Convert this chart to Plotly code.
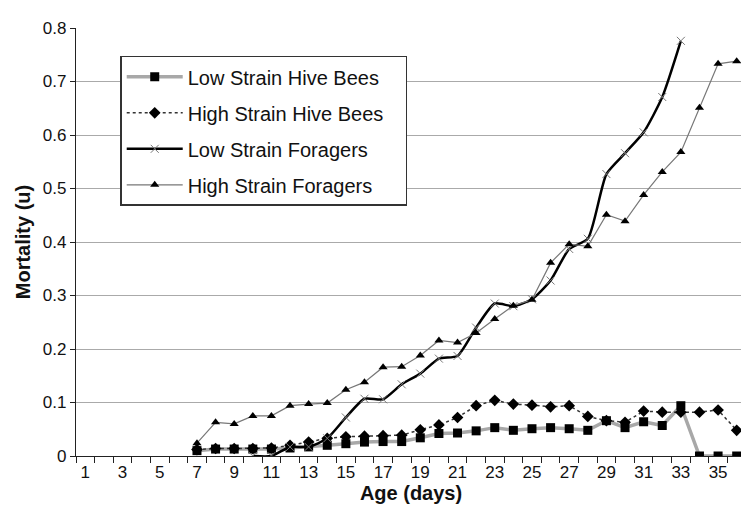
import plotly.graph_objects as go

days = list(range(1, 37))

low_hive_days = list(range(7, 37))
low_hive = [0.010, 0.013, 0.013, 0.013, 0.013, 0.015, 0.017, 0.020, 0.023, 0.026,
            0.027, 0.027, 0.034, 0.042, 0.043, 0.047, 0.053, 0.048, 0.051, 0.053,
            0.051, 0.048, 0.066, 0.053, 0.064, 0.057, 0.094, 0.0, 0.0, 0.0]

high_hive_days = list(range(7, 37))
high_hive = [0.012, 0.014, 0.014, 0.014, 0.015, 0.020, 0.026, 0.033, 0.036, 0.037,
             0.038, 0.039, 0.049, 0.058, 0.072, 0.094, 0.104, 0.097, 0.095, 0.092,
             0.094, 0.074, 0.066, 0.063, 0.084, 0.082, 0.082, 0.082, 0.086, 0.048]

low_forager_days = list(range(10, 34))
low_forager = [0.0, 0.0, 0.017, 0.017, 0.033, 0.072, 0.107, 0.106, 0.134, 0.154,
               0.182, 0.187, 0.240, 0.285, 0.280, 0.293, 0.328, 0.387, 0.406, 0.527,
               0.566, 0.605, 0.671, 0.776]

high_forager_days = list(range(7, 37))
high_forager = [0.024, 0.063, 0.060, 0.075, 0.075, 0.094, 0.097, 0.099, 0.124, 0.138,
                0.166, 0.167, 0.188, 0.216, 0.212, 0.230, 0.256, 0.281, 0.292, 0.361,
                0.396, 0.392, 0.451, 0.439, 0.488, 0.531, 0.568, 0.651, 0.733, 0.738]

x_labels = [str(d) for d in days if d % 2 == 1]
x_label_vals = [d for d in days if d % 2 == 1]

fig = go.Figure()

fig.add_trace(go.Scatter(
    x=low_hive_days, y=low_hive, name="Low Strain Hive Bees&nbsp;&nbsp;&nbsp;", mode="lines+markers",
    line=dict(color="#a8a8a8", width=3.5),
    marker=dict(symbol="square", size=9, color="black"),
    legendgroup="a"))

fig.add_trace(go.Scatter(
    x=high_hive_days, y=high_hive, name="High Strain Hive Bees&nbsp;&nbsp;&nbsp;", mode="lines+markers",
    line=dict(color="#333333", width=1.5, dash="dot"),
    marker=dict(symbol="diamond", size=9, color="black"),
    legendgroup="b"))

fig.add_trace(go.Scatter(
    x=low_forager_days, y=low_forager, name="Low Strain Foragers", mode="lines+markers",
    line=dict(color="black", width=2.5, shape="spline", smoothing=0.6),
    marker=dict(symbol="x-thin", size=8, color="#777777", line=dict(width=1, color="#777777")),
    legendgroup="c"))

fig.add_trace(go.Scatter(
    x=high_forager_days, y=high_forager, name="High Strain Foragers", mode="lines+markers",
    line=dict(color="#777777", width=1.2),
    marker=dict(symbol="triangle-up", size=8, color="black"),
    legendgroup="d"))

fig.update_layout(
    width=749, height=507,
    margin=dict(l=68, r=11, t=18, b=59),
    paper_bgcolor="white", plot_bgcolor="white",
    font=dict(family="Liberation Sans, Arial, sans-serif", color="#111111"),
    showlegend=True,
    legend=dict(
        x=0.066, y=0.935, xanchor="left", yanchor="top",
        bgcolor="white", bordercolor="#333333", borderwidth=1.5,
        font=dict(size=20, color="#111111"),
        tracegroupgap=7, itemwidth=56,
    ),
    xaxis=dict(
        range=[0.5, 36.5], showgrid=False, zeroline=False,
        showline=True, linecolor="#222222", linewidth=1.2,
        tickmode="array", tickvals=x_label_vals, ticktext=x_labels,
        ticks="", tickfont=dict(size=17, color="#111111"),
        minor=dict(tick0=0.5, dtick=1, ticks="outside", ticklen=6, tickcolor="#222222", showgrid=False),
        title=dict(text="<b>Age (days)</b>", font=dict(size=20, color="#111111"), standoff=2),
    ),
    yaxis=dict(
        range=[0, 0.8], dtick=0.1, tickformat="~g",
        showgrid=True, gridcolor="#aaaaaa", gridwidth=1, zeroline=False,
        showline=True, linecolor="#222222", linewidth=1.2,
        ticks="outside", ticklen=5, tickcolor="#222222",
        tickfont=dict(size=17, color="#111111"),
        title=dict(text="<b>Mortality (u)</b>", font=dict(size=20, color="#111111"), standoff=6),
    ),
)

fig.write_html("out.html")
